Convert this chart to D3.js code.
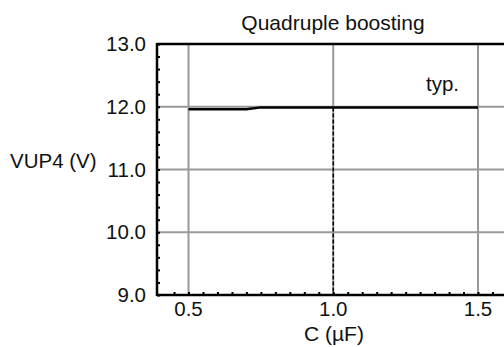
<!DOCTYPE html>
<html>
<head>
<meta charset="utf-8">
<script src="https://cdn.jsdelivr.net/npm/d3@7"></script>
<style>
  body { margin: 0; background: #fff; }
  text { font-family: "Liberation Sans", Arial, sans-serif; fill: #111; }
</style>
</head>
<body>
<div id="chart"></div>
<script>
// chart data
const xTicks = [0.5, 1.0, 1.5];
const yTicks = [9.0, 10.0, 11.0, 12.0, 13.0];
const capC = [0.5, 0.6, 0.7, 0.75, 0.8, 1.0, 1.2, 1.4, 1.5];
const vup4 = [11.96, 11.96, 11.96, 11.99, 11.99, 11.99, 11.99, 11.99, 11.99];
const markerC = 1.0;
const markerV = 11.99;

const width = 504, height = 347;
const plotLeft = 157, plotTop = 44, plotBottom = 295;
const fontSize = 20.5;

const svg = d3.select("#chart").append("svg")
    .attr("width", width)
    .attr("height", height);

// scales
const x = d3.scaleLinear().domain([0.5, 1.5]).range([188.5, 478]);
const y = d3.scaleLinear().domain([9, 13]).range([plotBottom, plotTop]);
const xMax = x.invert(width + 5);

// grid
svg.append("g").selectAll("line")
    .data(xTicks)
    .enter().append("line")
    .attr("x1", d => x(d)).attr("x2", d => x(d))
    .attr("y1", plotTop).attr("y2", plotBottom)
    .attr("stroke", "#999").attr("stroke-width", 2);

svg.append("g").selectAll("line")
    .data(yTicks.slice(1, -1))
    .enter().append("line")
    .attr("x1", plotLeft).attr("x2", width)
    .attr("y1", d => y(d)).attr("y2", d => y(d))
    .attr("stroke", "#999").attr("stroke-width", 2);

// minor ticks
const yMinor = d3.range(9, 13.001, 0.2);
svg.append("g")
    .attr("transform", `translate(${plotLeft},0)`)
    .call(d3.axisRight(y).tickValues(yMinor).tickSize(3).tickFormat(""))
    .call(g => g.select(".domain").remove())
    .selectAll("line").attr("stroke", "#000").attr("stroke-width", 2);

const xMinor = d3.range(0.45, xMax, 0.05);
svg.append("g")
    .attr("transform", `translate(0,${plotBottom})`)
    .call(d3.axisTop(x).tickValues(xMinor).tickSize(3).tickFormat(""))
    .call(g => g.select(".domain").remove())
    .selectAll("line").attr("stroke", "#000").attr("stroke-width", 2);

// frame
svg.append("line").attr("x1", plotLeft).attr("x2", plotLeft).attr("y1", plotTop - 1).attr("y2", plotBottom + 1)
    .attr("stroke", "#000").attr("stroke-width", 2.5);
svg.append("line").attr("x1", plotLeft).attr("x2", width).attr("y1", plotBottom).attr("y2", plotBottom)
    .attr("stroke", "#000").attr("stroke-width", 2.5);
svg.append("line").attr("x1", plotLeft).attr("x2", width).attr("y1", plotTop).attr("y2", plotTop)
    .attr("stroke", "#000").attr("stroke-width", 2.5);

// dashed marker
svg.append("line")
    .attr("x1", x(markerC)).attr("x2", x(markerC))
    .attr("y1", y(markerV)).attr("y2", plotBottom)
    .attr("stroke", "#000").attr("stroke-width", 1.5)
    .attr("stroke-dasharray", "4,2");

// curve
const line = d3.line().x((d, i) => x(capC[i])).y(d => y(d));
svg.append("path")
    .datum(vup4)
    .attr("d", line)
    .attr("fill", "none").attr("stroke", "#000").attr("stroke-width", 2.5);

// tick labels
svg.append("g").selectAll("text")
    .data(yTicks)
    .enter().append("text")
    .attr("x", 146).attr("y", d => y(d) + 7)
    .attr("text-anchor", "end").attr("font-size", fontSize)
    .text(d => d.toFixed(1));

svg.append("g").selectAll("text")
    .data(xTicks)
    .enter().append("text")
    .attr("x", d => x(d)).attr("y", 316)
    .attr("text-anchor", "middle").attr("font-size", fontSize)
    .text(d => d.toFixed(1));

// titles
svg.append("text").attr("x", 333).attr("y", 30)
    .attr("text-anchor", "middle").attr("font-size", 21)
    .text("Quadruple boosting");
svg.append("text").attr("x", 10).attr("y", 168)
    .attr("font-size", fontSize).text("VUP4 (V)");
svg.append("text").attr("x", 334).attr("y", 341)
    .attr("text-anchor", "middle").attr("font-size", 21)
    .text("C (\u00b5F)");
svg.append("text").attr("x", 426).attr("y", 91)
    .attr("font-size", fontSize).text("typ.");
</script>
</body>
</html>
